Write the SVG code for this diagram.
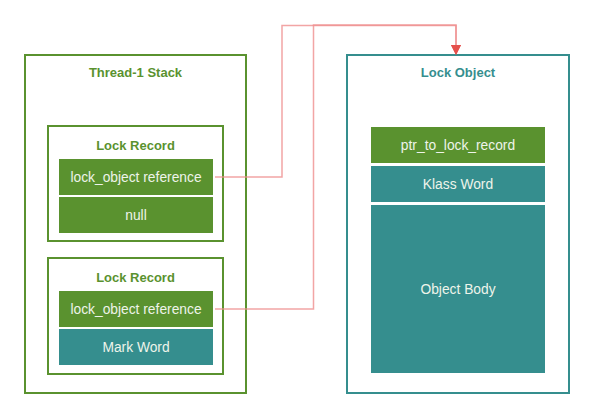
<svg xmlns="http://www.w3.org/2000/svg" width="594" height="419" viewBox="0 0 594 419">
<defs>
<style>
.frame-g{fill:#fff;stroke:#5a922f;stroke-width:2}
.frame-t{fill:#fff;stroke:#358e8e;stroke-width:2}
.cell-g{fill:#5a922f}
.cell-t{fill:#358e8e}
text{font-family:"Liberation Sans","Noto Sans",sans-serif;font-size:13px;text-anchor:middle;dominant-baseline:central}
.tg{fill:#5a922f;font-weight:bold}
.tt{fill:#358e8e;font-weight:bold}
.tw{fill:#eef4ea;font-size:13.8px}
.conn{fill:none;stroke:#ef8e8e;stroke-opacity:0.8;stroke-width:1.5}
</style>
<marker id="arr" viewBox="0 0 10 10" refX="9" refY="5" markerWidth="10" markerHeight="10" markerUnits="userSpaceOnUse" orient="auto">
<path d="M0,0 L10,5 L0,10 z" fill="#e5504c"/>
</marker>
</defs>
<rect width="594" height="419" fill="#fff"/>
<g id="thread-stack">
<rect class="frame-g" x="25" y="55" width="221" height="338"/>
<text class="tg" x="135.5" y="72">Thread-1 Stack</text>
</g>
<g id="lock-record-1">
<rect class="frame-g" x="48" y="126" width="175" height="115"/>
<text class="tg" x="135.5" y="145">Lock Record</text>
<rect class="cell-g" x="59" y="159" width="154" height="36"/>
<text class="tw" x="136" y="177">lock_object reference</text>
<rect class="cell-g" x="59" y="197" width="154" height="36"/>
<text class="tw" x="136" y="215">null</text>
</g>
<g id="lock-record-2">
<rect class="frame-g" x="48" y="258" width="175" height="116"/>
<text class="tg" x="135.5" y="277">Lock Record</text>
<rect class="cell-g" x="59" y="291" width="154" height="36"/>
<text class="tw" x="136" y="309">lock_object reference</text>
<rect class="cell-t" x="59" y="329" width="154" height="36"/>
<text class="tw" x="136" y="347">Mark Word</text>
</g>
<g id="lock-object">
<rect class="frame-t" x="347" y="55" width="222" height="338"/>
<text class="tt" x="458" y="72">Lock Object</text>
<rect class="cell-g" x="371" y="127" width="174" height="36"/>
<text class="tw" x="458" y="145">ptr_to_lock_record</text>
<rect class="cell-t" x="371" y="166" width="174" height="36"/>
<text class="tw" x="458" y="184">Klass Word</text>
<rect class="cell-t" x="371" y="205" width="174" height="168"/>
<text class="tw" x="458" y="289">Object Body</text>
</g>
<g id="connectors">
<path class="conn" d="M215,177 H282 V25.5 H456 V54" marker-end="url(#arr)"/>
<path class="conn" d="M215,309 H313.5 V25 H456 V54" marker-end="url(#arr)"/>
</g>
</svg>
